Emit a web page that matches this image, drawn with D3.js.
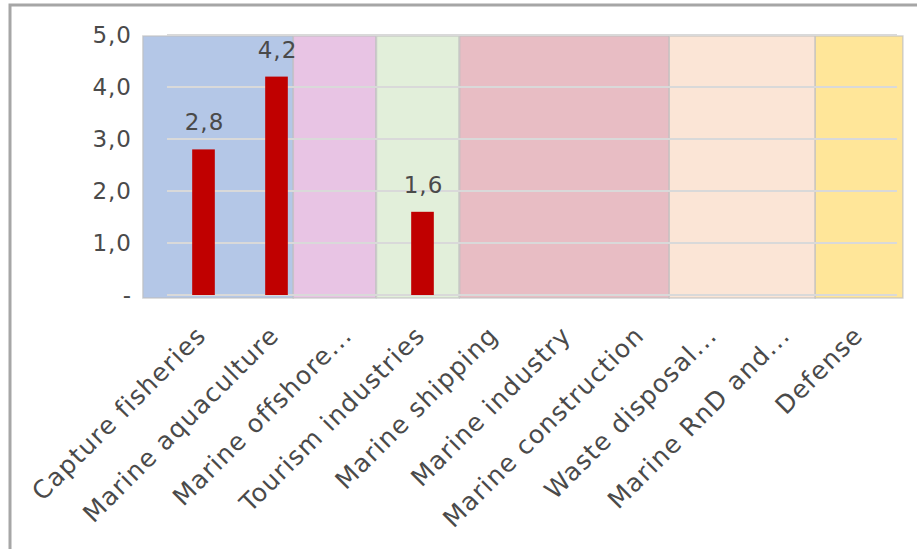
<!DOCTYPE html>
<html>
<head>
<meta charset="utf-8">
<script src="https://cdn.jsdelivr.net/npm/d3@7"></script>
<style>
  body { margin: 0; background: #fff; }
  text { font-family: "DejaVu Sans", sans-serif; fill: #4a4a4a; }
</style>
</head>
<body>
<div id="chart"></div>
<script>
// categories + values
var categories = [
  "Capture fisheries", "Marine aquaculture", "Marine offshore...", "Tourism industries",
  "Marine shipping", "Marine industry", "Marine construction", "Waste disposal...",
  "Marine RnD and...", "Defense"
];
var values = [2.8, 4.2, null, 1.6, null, null, null, null, null, null];
var yTicks = [0, 1, 2, 3, 4, 5];
var yTickLabels = ["-", "1,0", "2,0", "3,0", "4,0", "5,0"];

// sector backgrounds, edges given in category index units
var sectorStart = [-0.33, 1.73, 2.87, 4.01, 6.88, 8.88];
var sectorEnd = [1.73, 2.86, 4.0, 6.88, 8.88, 10.08];
var sectorColors = ["#b4c7e7", "#e8c4e4", "#e2efda", "#e8bdc4", "#fbe5d6", "#ffe699"];

var W = 917, H = 549;
var margin = { top: 35, right: 20, bottom: 254, left: 167 };
var width = W - margin.left - margin.right,
  height = H - margin.top - margin.bottom;

var svg = d3.select("#chart").append("svg")
  .attr("width", W)
  .attr("height", H);

// outer frame
svg.append("rect")
  .attr("x", 10).attr("y", 5)
  .attr("width", W + 20).attr("height", H + 20)
  .attr("fill", "none")
  .attr("stroke", "#a6a6a6")
  .attr("stroke-width", 3);

var g = svg.append("g")
  .attr("transform", "translate(" + margin.left + "," + margin.top + ")");

var x = d3.scaleBand().domain(categories).range([0, width]).padding(0);
var xi = d3.scaleLinear().domain([0, categories.length]).range([0, width]);
var y = d3.scaleLinear().domain([0, 5]).range([height, 0]);

// background sectors
g.append("g").attr("class", "sectors")
  .selectAll("rect")
  .data(sectorColors)
  .enter()
  .append("rect")
  .attr("x", function(d, i) { return xi(sectorStart[i]); })
  .attr("y", y(5) + 1)
  .attr("width", function(d, i) { return xi(sectorEnd[i]) - xi(sectorStart[i]); })
  .attr("height", y(0) - y(5) + 2)
  .attr("fill", function(d) { return d; })
  .attr("stroke", "#bfbfbf")
  .attr("stroke-opacity", 0.7)
  .attr("stroke-width", 1.5);

// gridlines
g.append("g").attr("class", "grid")
  .selectAll("line")
  .data(yTicks)
  .enter()
  .append("line")
  .attr("x1", 0)
  .attr("x2", width)
  .attr("y1", function(d) { return y(d); })
  .attr("y2", function(d) { return y(d); })
  .attr("stroke", "#d9d9d9")
  .attr("stroke-width", 2);

// y axis labels
var yAxis = d3.axisLeft(y)
  .tickValues(yTicks)
  .tickSize(0)
  .tickPadding(35)
  .tickFormat(function(d, i) { return yTickLabels[i]; });
var ya = g.append("g").attr("class", "y axis").call(yAxis);
ya.select(".domain").remove();
ya.selectAll("text")
  .style("font-family", "DejaVu Sans, sans-serif")
  .style("font-size", "23px")
  .style("letter-spacing", "1px")
  .attr("fill", "#4a4a4a");

// bars
var barW = x.bandwidth() * 0.31;
var bars = categories.map(function(c, i) { return { name: c, value: values[i] }; })
  .filter(function(d) { return d.value != null; });

g.selectAll(".bar")
  .data(bars)
  .enter()
  .append("rect")
  .attr("class", "bar")
  .attr("x", function(d) { return x(d.name) + (x.bandwidth() - barW) / 2; })
  .attr("y", function(d) { return y(d.value); })
  .attr("width", barW)
  .attr("height", function(d) { return y(0) - y(d.value); })
  .attr("fill", "#c00000");

// data labels
g.selectAll(".lbl")
  .data(bars)
  .enter()
  .append("text")
  .attr("class", "lbl")
  .attr("x", function(d) { return x(d.name) + x.bandwidth() / 2 + 1; })
  .attr("y", function(d) { return y(d.value) - 19; })
  .attr("text-anchor", "middle")
  .style("font-size", "23px")
  .style("letter-spacing", "1px")
  .text(function(d) { return d.value.toFixed(1).replace(".", ","); });

// x labels, rotated
g.append("g").attr("class", "x labels")
  .selectAll("text")
  .data(categories)
  .enter()
  .append("text")
  .attr("text-anchor", "end")
  .attr("transform", function(d) {
    var cx = x(d) + x.bandwidth() / 2 + 4;
    return "translate(" + cx + "," + (height + 42) + ") rotate(-45)";
  })
  .style("font-size", "25px")
  .style("letter-spacing", "1.2px")
  .text(function(d) { return d; });
</script>
</body>
</html>
